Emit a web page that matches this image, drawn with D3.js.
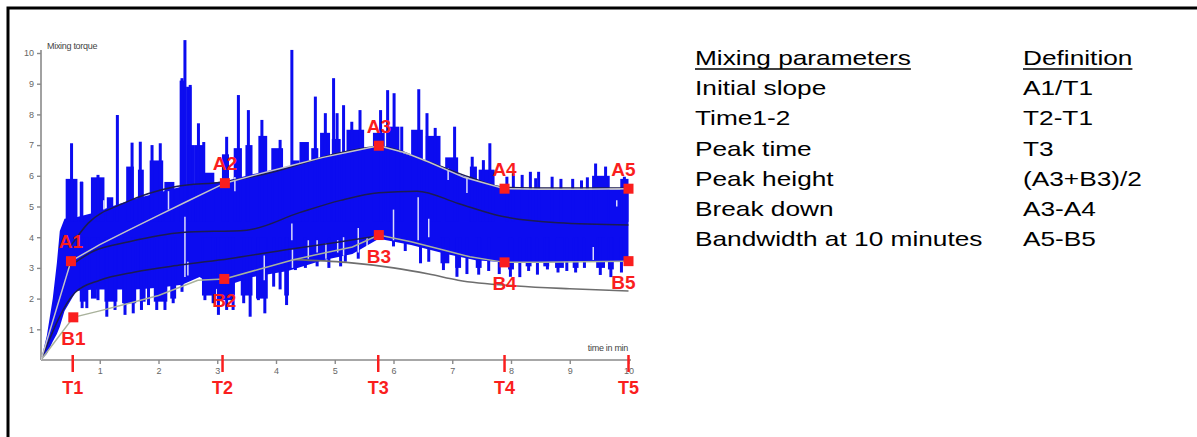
<!DOCTYPE html>
<html>
<head>
<meta charset="utf-8">
<script src="https://cdn.jsdelivr.net/npm/d3@7"></script>
<style>
  body { margin: 0; background: #fff; }
  svg { display: block; font-family: Arial, "Liberation Sans", sans-serif; }
</style>
</head>
<body>
<div id="chart"></div>
<script>
// Mixograph trace (time in min, mixing torque)

// solid band of the blue trace
const coreT      = [0.00, 0.10, 0.20, 0.27, 0.32, 0.40, 0.60, 0.90, 1.20, 1.60, 2.00, 2.40, 2.70, 3.00, 3.13, 3.60, 4.20, 4.80, 5.30, 5.75, 6.30, 6.90, 7.40, 7.89, 8.50, 9.00, 9.50, 10.00];
const coreTop    = [0.00, 0.80, 2.00, 3.16, 4.20, 4.60, 4.65, 4.80, 5.00, 5.25, 5.45, 5.65, 5.75, 5.80, 5.82, 6.05, 6.30, 6.60, 6.85, 6.98, 6.65, 6.20, 5.85, 5.58, 5.55, 5.55, 5.55, 5.55];
const coreBottom = [0.00, 0.20, 0.60, 0.85, 1.08, 1.60, 2.25, 2.30, 2.30, 2.30, 2.35, 2.45, 2.70, 2.30, 2.40, 2.70, 2.90, 3.25, 3.45, 3.95, 3.75, 3.45, 3.25, 3.18, 3.18, 3.20, 3.20, 3.20];

// needles above the band [t, top]
const upSpikes = [
  [0.52, 7.06], [0.69, 5.81], [0.97, 6.03], [1.30, 7.98], [1.55, 7.08], [1.69, 7.11],
  [1.89, 7.00], [2.03, 7.06], [2.23, 5.60], [2.40, 9.18], [2.45, 10.42], [2.54, 8.96],
  [2.68, 7.71], [2.77, 7.10], [3.16, 7.27], [3.36, 8.63], [3.53, 8.14], [3.76, 7.82],
  [3.99, 6.84], [4.07, 7.17], [4.27, 10.10], [4.46, 7.06], [4.67, 8.58], [4.84, 8.04],
  [4.98, 9.18], [5.04, 8.04], [5.15, 8.30], [5.29, 7.76], [5.43, 8.14], [5.78, 8.14],
  [5.90, 8.79], [6.01, 8.69], [6.14, 7.60], [6.43, 8.82], [6.57, 8.04], [6.71, 7.56],
  [7.04, 7.60], [7.34, 6.62], [7.53, 6.51], [7.64, 7.06], [7.93, 5.97], [8.04, 6.08],
  [8.19, 6.03], [8.33, 6.13], [8.42, 5.92], [8.47, 6.13], [8.70, 5.97], [8.85, 5.90],
  [9.05, 5.90], [9.20, 5.85], [9.30, 5.95], [9.44, 6.40], [9.61, 6.30], [9.93, 5.97]
];
// wider steps above the band [t0, t1, top]
const upSteps = [
  [0.42, 0.62, 5.90], [0.66, 0.72, 5.80], [0.85, 1.08, 5.95], [1.12, 1.23, 5.30],
  [1.45, 1.58, 6.30], [1.65, 1.75, 6.20], [1.85, 2.08, 6.50], [2.10, 2.27, 5.80],
  [2.36, 2.46, 9.10], [2.47, 2.56, 8.90], [2.50, 2.62, 7.00], [2.62, 2.78, 7.00],
  [2.78, 2.95, 6.10], [3.08, 3.20, 6.70], [3.28, 3.42, 6.90], [3.48, 3.60, 7.00],
  [3.70, 3.85, 7.30], [3.92, 4.12, 6.90], [4.28, 4.40, 6.50], [4.40, 4.56, 7.10],
  [4.60, 4.72, 6.90], [4.75, 4.92, 7.40], [4.95, 5.10, 7.20], [5.20, 5.50, 7.50],
  [5.65, 5.85, 7.40], [5.92, 6.10, 7.60], [6.30, 6.50, 7.50], [6.55, 6.80, 7.30],
  [6.88, 7.10, 6.60], [7.30, 7.42, 6.30], [7.45, 7.72, 6.20], [9.38, 9.68, 6.00],
  [9.86, 10.00, 5.90]
];

// needles below the band [t, bottom]
const downSpikes = [
  [0.70, 1.69], [0.78, 1.69], [0.97, 1.95], [1.12, 1.41], [1.26, 1.63], [1.43, 1.47],
  [1.57, 1.52], [1.71, 1.63], [1.83, 1.79], [1.97, 1.63], [2.11, 1.63], [2.25, 1.85],
  [2.40, 2.22], [2.79, 1.95], [2.93, 1.85], [3.02, 1.47], [3.16, 1.63], [3.27, 1.63],
  [3.45, 1.85], [3.56, 1.41], [3.70, 1.95], [3.81, 1.52], [3.96, 2.39], [4.07, 2.30],
  [4.18, 1.79], [4.33, 2.93], [4.50, 3.00], [4.70, 3.05], [4.90, 3.00], [5.10, 3.05],
  [5.18, 3.20], [5.40, 3.30], [6.00, 3.70], [6.20, 3.55], [6.46, 3.15], [6.60, 3.20],
  [6.85, 2.93], [7.08, 2.71], [7.25, 2.80], [7.45, 2.78], [7.62, 2.90], [7.80, 2.80],
  [7.99, 2.71], [8.15, 2.70], [8.30, 2.90], [8.45, 2.78], [8.62, 2.95], [8.80, 2.85],
  [8.95, 2.90], [9.10, 2.85], [9.25, 3.00], [9.52, 2.77], [9.70, 2.70], [9.88, 2.85]
];
// wider steps below the band [t0, t1, bottom]
const downSteps = [
  [0.66, 0.80, 1.90], [0.85, 0.95, 2.00], [1.08, 1.30, 1.90], [1.38, 1.62, 1.85],
  [1.68, 1.78, 1.90], [1.92, 2.15, 1.90], [2.20, 2.30, 2.00], [2.74, 2.98, 2.10],
  [3.00, 3.30, 1.95], [3.40, 3.60, 2.10], [3.66, 3.86, 2.00], [4.14, 4.22, 2.10],
  [6.80, 6.95, 3.15], [7.05, 7.15, 3.00], [7.40, 7.50, 3.00], [7.95, 8.05, 2.95],
  [8.25, 8.35, 3.05], [8.55, 8.65, 3.05], [8.75, 8.90, 3.00], [9.05, 9.15, 3.00],
  [9.45, 9.60, 3.00], [9.65, 9.75, 2.95]
];

// thin white gaps inside the blue [t, from, to]
const whiteGaps = [
  [1.07, 4.90, 5.20], [2.17, 4.90, 5.50], [2.45, 2.70, 4.67], [2.50, 2.75, 3.20],
  [3.30, 5.50, 5.96], [3.80, 2.60, 3.40], [4.27, 3.90, 4.45], [4.28, 3.00, 3.60],
  [4.55, 3.30, 3.90], [4.70, 3.50, 3.90], [4.85, 3.30, 3.80], [5.05, 3.50, 3.90],
  [5.15, 3.40, 4.00], [5.40, 3.50, 4.30], [5.55, 3.60, 4.00], [6.00, 3.90, 4.90],
  [6.42, 3.90, 5.30], [6.60, 4.00, 4.60], [6.93, 5.86, 6.25], [7.25, 5.44, 6.03],
  [9.40, 3.26, 3.68], [9.80, 5.00, 5.20]
];

// grey envelope through the A points and through the B points
const aLineT = [0, 0.51, 1.0, 1.5, 2.0, 2.5, 2.9, 3.13, 3.65, 4.2, 4.8, 5.3, 5.75, 6.2, 6.6, 7.2, 7.89, 8.5, 9.2, 10.0];
const aLineV = [0, 3.22, 3.76, 4.24, 4.71, 5.18, 5.55, 5.76, 6.03, 6.30, 6.60, 6.80, 6.98, 6.75, 6.45, 5.95, 5.58, 5.56, 5.56, 5.58];
const bLineT = [0, 0.55, 1.0, 1.5, 2.0, 2.67, 3.12, 3.7, 4.28, 4.8, 5.3, 5.75, 6.3, 6.85, 7.3, 7.89, 8.5, 9.2, 10.0];
const bLineV = [0, 1.39, 1.60, 1.85, 2.10, 2.60, 2.64, 2.95, 3.26, 3.48, 3.68, 4.07, 3.85, 3.58, 3.36, 3.18, 3.18, 3.20, 3.22];

// dark smoothed curves
const upperT = [0.50, 0.80, 1.40, 2.30, 3.10, 3.90, 5.10, 5.75, 6.60, 7.30, 7.90, 8.80, 10.0];
const upperV = [3.70, 4.45, 5.10, 5.65, 5.80, 6.10, 6.75, 6.95, 6.45, 5.95, 5.62, 5.60, 5.60];
const meanT  = [0.45, 0.90, 1.50, 2.40, 3.50, 4.40, 5.10, 5.75, 6.40, 7.10, 7.80, 8.80, 10.0];
const meanV  = [3.00, 3.55, 3.85, 4.15, 4.23, 4.80, 5.20, 5.45, 5.50, 5.10, 4.70, 4.47, 4.40];
const lowerT = [0.00, 0.58, 1.00, 1.60, 2.40, 3.20, 4.20, 5.10, 5.75];
const lowerV = [0.00, 2.20, 2.60, 2.87, 3.10, 3.30, 3.60, 3.85, 4.05];
const minT   = [4.30, 5.20, 6.00, 6.60, 7.10, 8.10, 9.00, 10.0];
const minV   = [3.27, 3.18, 3.00, 2.80, 2.60, 2.41, 2.32, 2.25];

// marked points
const aNames = ['A1', 'A2', 'A3', 'A4', 'A5'];
const aPtT   = [0.51, 3.13, 5.75, 7.89, 10.0];
const aPtV   = [3.22, 5.76, 6.98, 5.58, 5.58];
const bNames = ['B1', 'B2', 'B3', 'B4', 'B5'];
const bPtT   = [0.55, 3.12, 5.75, 7.89, 10.0];
const bPtV   = [1.39, 2.64, 4.07, 3.18, 3.22];
const tNames = ['T1', 'T2', 'T3', 'T4', 'T5'];
const tTimes = [0.54, 3.09, 5.74, 7.89, 10.0];

// parameter table
const paramNames = ['Initial slope', 'Time1-2', 'Peak time', 'Peak height', 'Break down', 'Bandwidth at 10 minutes'];
const paramDefs  = ['A1/T1', 'T2-T1', 'T3', '(A3+B3)/2', 'A3-A4', 'A5-B5'];

const width = 1197, height = 437;
const blue = '#0c0cf0', red = '#fa1e1e';

const svg = d3.select('#chart').append('svg')
    .attr('width', width)
    .attr('height', height);

// frame (only top and left edges are inside the picture)
svg.append('rect')
    .attr('x', 8).attr('y', 8)
    .attr('width', 1210).attr('height', 450)
    .attr('fill', 'none')
    .attr('stroke', '#000')
    .attr('stroke-width', 3);

const x = d3.scaleLinear().domain([0, 10]).range([41, 628.5]);
const y = d3.scaleLinear().domain([0, 10]).range([360, 53]);

// axes
const axisColor = '#8a8a8a';
const yAxis = svg.append('g')
    .attr('transform', `translate(${x(0)},0)`)
    .call(d3.axisLeft(y).tickValues(d3.range(1, 11)).tickSize(4).tickSizeOuter(0).tickPadding(3));
const xAxis = svg.append('g')
    .attr('transform', `translate(0,${y(0)})`)
    .call(d3.axisBottom(x).tickValues(d3.range(1, 11)).tickSize(4).tickSizeOuter(0).tickPadding(4));
[xAxis, yAxis].forEach(g => {
    g.select('.domain').attr('stroke', axisColor).attr('stroke-width', 1.6);
    g.selectAll('.tick line').attr('stroke', axisColor).attr('stroke-width', 1.4);
    g.selectAll('.tick text').attr('fill', '#666').attr('font-size', 9).attr('font-family', 'Arial');
});
yAxis.select('.domain').attr('d', `M0,${y(0)}V50`);
xAxis.select('.domain').attr('d', `M${x(0)},0H631`);

svg.append('text')
    .attr('x', 47).attr('y', 49)
    .attr('font-size', 9).attr('fill', '#444')
    .attr('letter-spacing', -0.3)
    .text('Mixing torque');
svg.append('text')
    .attr('x', 628).attr('y', 351)
    .attr('text-anchor', 'end')
    .attr('font-size', 9).attr('fill', '#444')
    .attr('letter-spacing', -0.3)
    .text('time in min');

// blue trace
const trace = svg.append('g').attr('fill', blue);
const core = coreT.map((t, i) => ({ t, hi: coreTop[i], lo: coreBottom[i] }));
trace.append('path')
    .datum(core)
    .attr('d', d3.area().x(d => x(d.t)).y0(d => y(d.lo)).y1(d => y(d.hi)));

trace.selectAll('rect.up-step')
    .data(upSteps).enter().append('rect')
    .attr('x', d => x(d[0]))
    .attr('width', d => x(d[1]) - x(d[0]))
    .attr('y', d => y(d[2]))
    .attr('height', d => y(4.5) - y(d[2]));
trace.selectAll('rect.up')
    .data(upSpikes).enter().append('rect')
    .attr('x', d => x(d[0]) - 1.5)
    .attr('width', 3)
    .attr('y', d => Math.max(y(d[1]), 40))
    .attr('height', d => y(4.5) - Math.max(y(d[1]), 40));
trace.selectAll('rect.down-step')
    .data(downSteps).enter().append('rect')
    .attr('x', d => x(d[0]))
    .attr('width', d => x(d[1]) - x(d[0]))
    .attr('y', y(4.0))
    .attr('height', d => y(d[2]) - y(4.0));
trace.selectAll('rect.down')
    .data(downSpikes).enter().append('rect')
    .attr('x', d => x(d[0]) - 1.5)
    .attr('width', 3)
    .attr('y', y(4.0))
    .attr('height', d => y(d[1]) - y(4.0));

svg.append('g')
    .selectAll('line')
    .data(whiteGaps).enter().append('line')
    .attr('x1', d => x(d[0])).attr('x2', d => x(d[0]))
    .attr('y1', d => y(d[1])).attr('y2', d => y(d[2]))
    .attr('stroke', '#fff')
    .attr('stroke-width', 1.5)
    .attr('opacity', 0.85);

// envelope curves
function curve(ts, vs, color, w, smooth) {
    const line = d3.line()
        .x(d => x(d[0]))
        .y(d => y(d[1]))
        .curve(smooth ? d3.curveMonotoneX : d3.curveLinear);
    svg.append('path')
        .datum(ts.map((t, i) => [t, vs[i]]))
        .attr('d', line)
        .attr('fill', 'none')
        .attr('stroke', color)
        .attr('stroke-width', w);
}
curve(upperT, upperV, '#1c1c52', 1.5, true);
curve(meanT, meanV, '#1c1c52', 1.5, true);
curve(lowerT, lowerV, '#1c1c52', 1.5, true);
curve(minT, minV, '#6e6e6e', 1.6, true);
curve(bLineT, bLineV, '#a9b29c', 1.5, false);
curve(aLineT, aLineV, '#c4c4c8', 1.5, false);

// T marks on the time axis
svg.append('g').selectAll('line')
    .data(tTimes).enter().append('line')
    .attr('x1', d => x(d)).attr('x2', d => x(d))
    .attr('y1', 355).attr('y2', 372)
    .attr('stroke', red).attr('stroke-width', 2.5);
svg.append('g').selectAll('text')
    .data(tTimes).enter().append('text')
    .attr('x', d => x(d)).attr('y', 394)
    .attr('text-anchor', 'middle')
    .attr('font-size', 18).attr('font-weight', 'bold').attr('fill', red)
    .text((d, i) => tNames[i]);

// A and B points
const points = aNames.map((n, i) => ({ name: n, t: aPtT[i], v: aPtV[i], dy: -13 }))
    .concat(bNames.map((n, i) => ({ name: n, t: bPtT[i], v: bPtV[i], dy: 28 })));
svg.append('g').selectAll('rect')
    .data(points).enter().append('rect')
    .attr('x', d => x(d.t) - 5).attr('y', d => y(d.v) - 5)
    .attr('width', 10).attr('height', 10)
    .attr('fill', red);
svg.append('g').selectAll('text')
    .data(points).enter().append('text')
    .attr('x', d => x(d.t) + (d.t >= 10 ? -5 : 0))
    .attr('y', d => y(d.v) + d.dy)
    .attr('text-anchor', 'middle')
    .attr('font-size', 19).attr('font-weight', 'bold').attr('fill', red)
    .text(d => d.name);

// parameter table on the right
const table = svg.append('g')
    .attr('transform', 'translate(695,0) scale(1.25,1)')
    .attr('font-size', 21)
    .attr('fill', '#000');
const rowY = i => 65 + i * 30.2;
const colX = (1023 - 695) / 1.25;
[['Mixing parameters', 0], ['Definition', colX]].forEach(([txt, cx]) => {
    const t = table.append('text').attr('x', cx).attr('y', rowY(0)).text(txt);
    const w = t.node().getComputedTextLength();
    table.append('line')
        .attr('x1', cx).attr('x2', cx + w)
        .attr('y1', rowY(0) + 4).attr('y2', rowY(0) + 4)
        .attr('stroke', '#000').attr('stroke-width', 1.6);
});
table.selectAll('text.name')
    .data(paramNames).enter().append('text')
    .attr('x', 0).attr('y', (d, i) => rowY(i + 1))
    .text(d => d);
table.selectAll('text.def')
    .data(paramDefs).enter().append('text')
    .attr('x', colX).attr('y', (d, i) => rowY(i + 1))
    .text(d => d);
</script>
</body>
</html>
